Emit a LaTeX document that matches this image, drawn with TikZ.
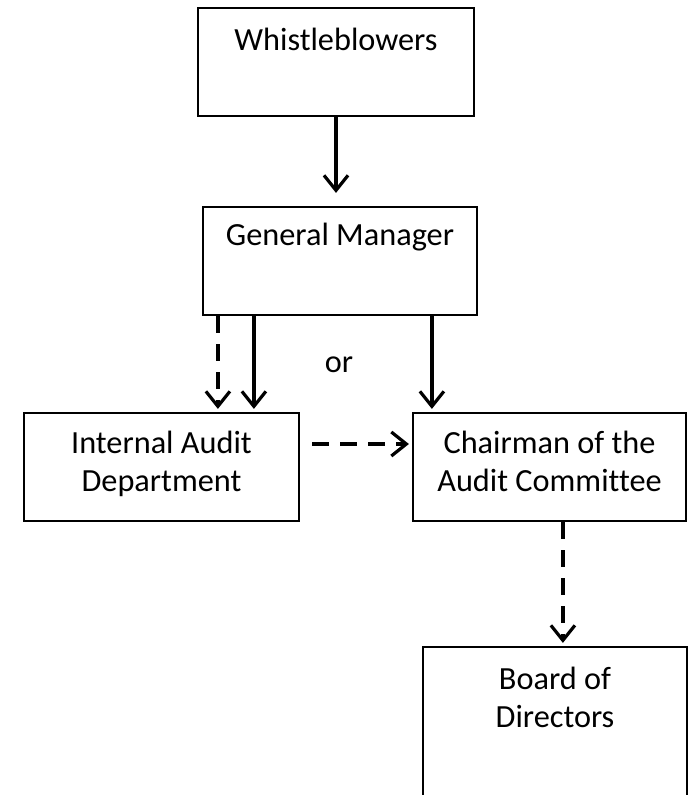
\documentclass[tikz,border=0pt]{standalone}
\usepackage{fontspec}
\setmainfont[Ligatures=NoCommon]{Carlito}
\usetikzlibrary{arrows.meta}
\tikzset{
  box/.style={draw=black, line width=2.2pt, rectangle, inner sep=0pt, minimum height=108pt},
  txt/.style={anchor=base, align=center, inner sep=0pt, font=\fontsize{32.3}{38}\selectfont},
  conn/.style={line width=3.2pt, -{Straight Barb[length=15pt,width=24pt]}},
  dashconn/.style={conn, dash pattern=on 17pt off 11pt},
}
\begin{document}
\begin{tikzpicture}[x=1pt,y=-1pt]
\clip (0,0) rectangle (689,795);
\fill[white] (0,0) rectangle (689,795);
\node[box, minimum width=276pt] (wb) at (336,62) {};
\node[box, minimum width=274pt] (gm) at (340,261) {};
\node[box, minimum width=275pt] (ia) at (161.5,467) {};
\node[box, minimum width=273pt] (ch) at (549.5,467) {};
\node[box, minimum width=264pt, minimum height=200pt] (bd) at (555,747) {};
\node[txt] (wbt) at (336,50) {Whistleblowers};
\node[txt] (gmt) at (340,245) {General Manager};
\node[txt] (iat) at (161.5,491) {Internal Audit\\Department};
\node[txt] (cht) at (549.5,491) {Chairman of the\\Audit Committee};
\node[txt] (bdt) at (555,727) {Board of\\Directors};
\node[txt] (ort) at (339,372) {or};
\draw[conn, shorten >=13pt] (wb.south) -- (wb.south |- gm.north);
\draw[dashconn, shorten >=3pt] ([xshift=16pt]gm.south west) -- ([xshift=16pt]gm.south west |- ia.north);
\draw[conn, shorten >=3pt] ([xshift=52pt]gm.south west) -- ([xshift=52pt]gm.south west |- ia.north);
\draw[conn, shorten >=3pt] ([xshift=230pt]gm.south west) -- ([xshift=230pt]gm.south west |- ch.north);
\draw[dashconn, shorten <=12pt, shorten >=3pt] ([yshift=23pt]ia.east) -- ([yshift=23pt]ia.east -| ch.west);
\draw[dashconn, shorten >=3pt] ([xshift=151pt]ch.south west) -- ([xshift=151pt]ch.south west |- bd.north);
\end{tikzpicture}
\end{document}
